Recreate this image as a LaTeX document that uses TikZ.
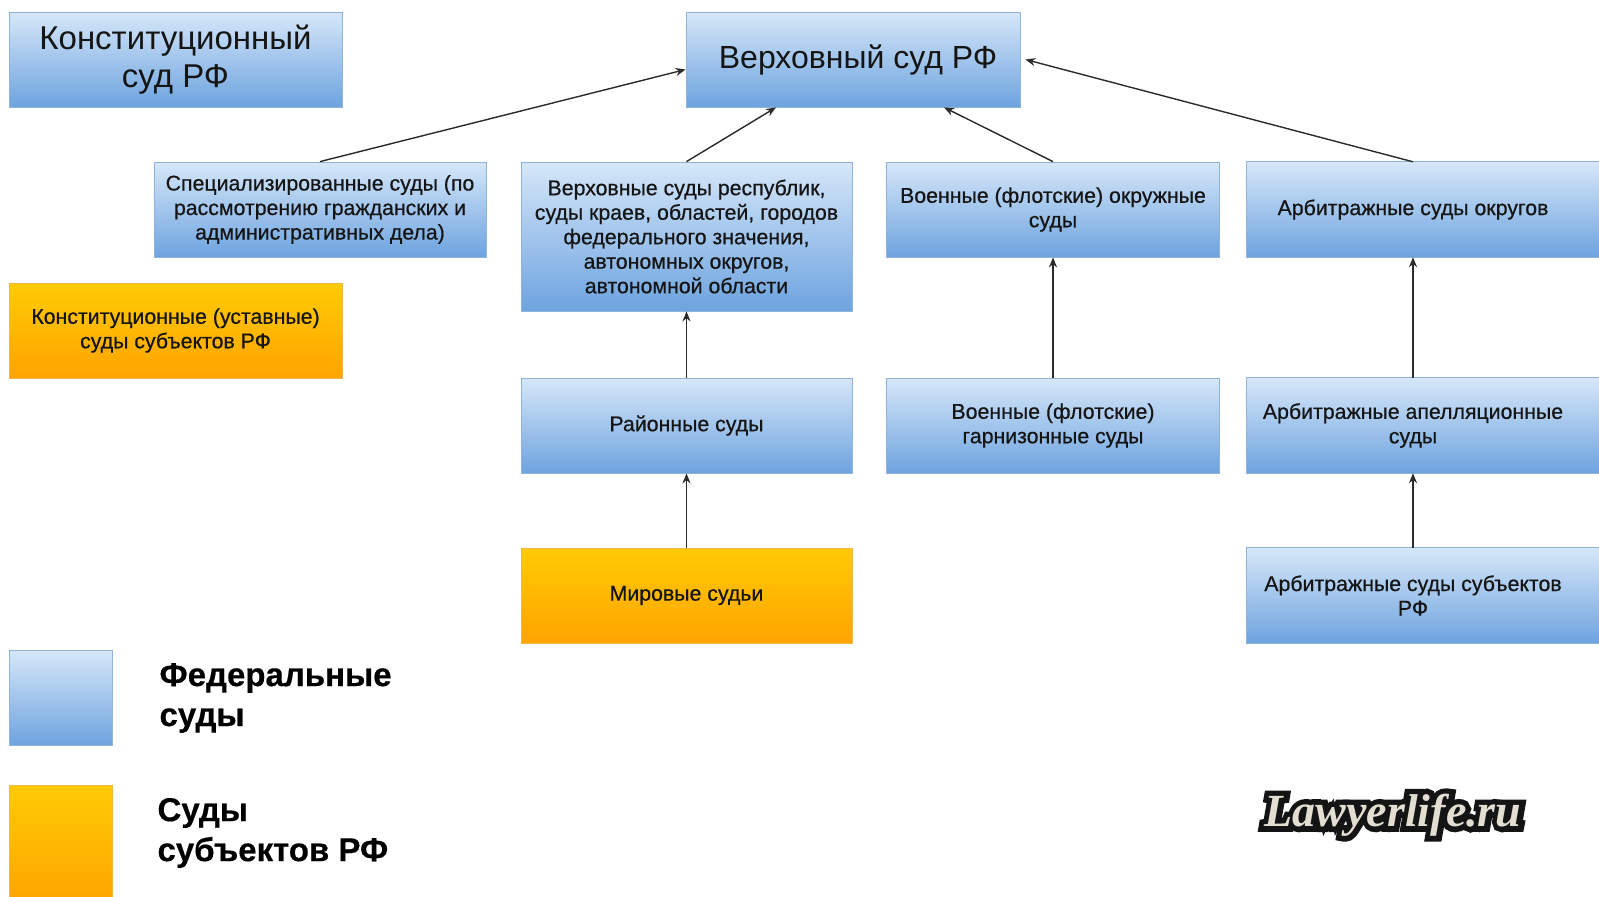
\documentclass[tikz,border=0pt]{standalone}
\usepackage{fontspec}
\setmainfont{Liberation Sans}
\newfontfamily\boxfont{Liberation Sans}[FakeBold=0.6]
\newfontfamily\legfont{Liberation Sans}[FakeBold=0.5]
\newfontfamily\wmfont{Liberation Serif}
\newfontfamily\wmoutline{Liberation Serif}[FakeBold=24]
\usetikzlibrary{arrows.meta,backgrounds}
\definecolor{btop}{HTML}{D6E7F9}
\definecolor{bbot}{HTML}{6DA3DF}
\definecolor{bbrd}{HTML}{8FB3D9}
\definecolor{otop}{HTML}{FFCB05}
\definecolor{obot}{HTML}{FFA400}
\definecolor{obrd}{HTML}{F2B845}
\definecolor{txt}{HTML}{151515}
\definecolor{arr}{HTML}{2B2B2B}
\definecolor{wmfill}{HTML}{E2DED2}
\definecolor{wmline}{HTML}{141414}
\tikzset{
 box/.style={rectangle, inner sep=0pt, align=center, text=txt, font=\boxfont\fontsize{21.3}{24.5}\selectfont},
 fedfill/.style={draw=bbrd, line width=0.8pt, top color=btop, bottom color=bbot},
 subjfill/.style={draw=obrd, line width=0.8pt, top color=otop, bottom color=obot},
 fed/.style={box, fedfill},
 subj/.style={box, subjfill},
 wbox/.style={minimum width=333pt, minimum height=95pt},
 big/.style={font=\fontsize{33}{38}\selectfont},
 legtext/.style={anchor=west, align=left, text=black, font=\legfont\fontsize{33}{40}\selectfont\bfseries},
 wm/.style={font=\wmfont\fontsize{46}{46}\selectfont\bfseries\itshape},
 wmo/.style={font=\wmoutline\fontsize{46}{46}\selectfont\bfseries\itshape},
 link/.style={draw=arr, line width=1.4pt, -{Stealth[length=10pt,width=8pt]}},
}
\begin{document}
\begin{tikzpicture}[x=1pt,y=-1pt]
\useasboundingbox (0,0) rectangle (1599,897);

% top row
\node[fed, wbox, big] (ks) at (175.5,59.5) {Конституционный\\суд РФ};
\node[fed, minimum width=334pt, minimum height=95pt, font=\fontsize{32}{38}\selectfont] (vs) at (853,59.5) {\hspace*{10pt}Верховный суд РФ};

% second row
\node[fed, minimum width=332pt, minimum height=95pt] (spec) at (320,209.5) {Специализированные суды (по\\рассмотрению гражданских и\\административных дела)};
\node[fed, minimum width=331pt, minimum height=149pt] (vsr) at (686.5,236.5) {Верховные суды республик,\\суды краев, областей, городов\\федерального значения,\\автономных округов,\\автономной области};
\node[fed, wbox] (vok) at (1053,209.5) {Военные (флотские) окружные\\суды};
\node[box, wbox] (aso) at (1413,209.5) {Арбитражные суды округов};

% orange left
\node[subj, wbox] (kus) at (175.5,330.5) {Конституционные (уставные)\\суды субъектов РФ};

% third row
\node[fed, minimum width=331pt, minimum height=95pt] (rs) at (686.5,425.5) {Районные суды};
\node[fed, wbox] (vgs) at (1053,425.5) {Военные (флотские)\\гарнизонные суды};
\node[box, wbox] (aas) at (1413,425.5) {Арбитражные апелляционные\\суды};

% fourth row
\node[subj, minimum width=331pt, minimum height=95pt] (ms) at (686.5,595.5) {Мировые судьи};
\node[box, wbox] (ass) at (1413,595.5) {Арбитражные суды субъектов\\РФ};

\begin{scope}[on background layer]
\fill[white] (0,0) rectangle (1599,897);
\path[fedfill] (aso.north west) rectangle ([xshift=40pt]aso.south east);
\path[fedfill] (aas.north west) rectangle ([xshift=40pt]aas.south east);
\path[fedfill] (ass.north west) rectangle ([xshift=40pt]ass.south east);
\end{scope}

% connectors
\draw[link] (spec.north) -- ([yshift=-10pt]vs.west);
\draw[link] (vsr.north) -- ([xshift=-77pt]vs.south);
\draw[link] (vok.north) -- ([xshift=91pt]vs.south);
\draw[link] (aso.north) -- ([xshift=5pt]vs.east);
\draw[link] (rs.north) -- (vsr.south);
\draw[link] (vgs.north) -- (vok.south);
\draw[link] (aas.north) -- (aso.south);
\draw[link] (ms.north) -- (rs.south);
\draw[link] (ass.north) -- (aas.south);

% legend
\node[fed, minimum width=103pt, minimum height=95pt] (lf) at (60.5,697.5) {};
\node[legtext] (lft) at (156,698) {Федеральные\\суды};
\node[subj, minimum width=103pt, minimum height=120pt] (ls) at (60.5,845) {};
\node[legtext] (lst) at (154,833) {Суды\\субъектов РФ};

% watermark
\node[wmo, text=wmline] (wmback) at (1393,815) {Lawyerlife.ru};
\node[wm, text=wmfill] (wm) at (1393,815) {Lawyerlife.ru};
\end{tikzpicture}
\end{document}
